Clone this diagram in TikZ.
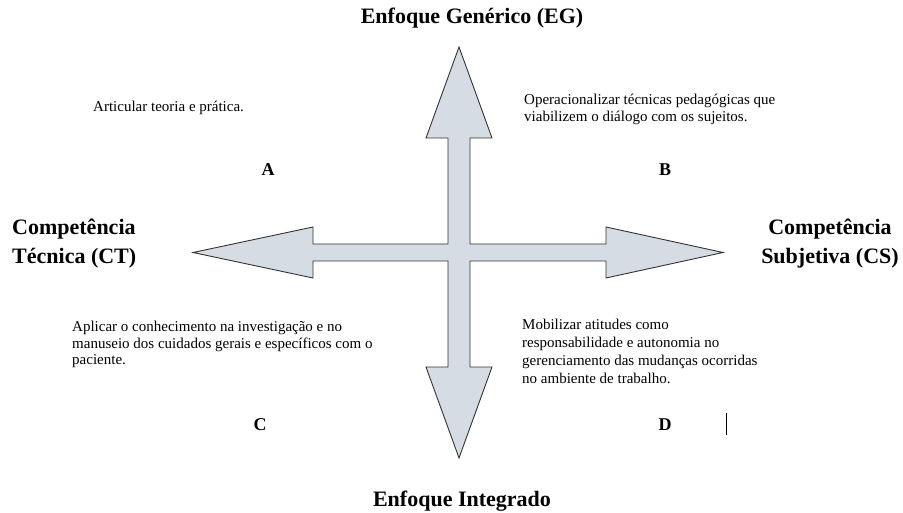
\documentclass[tikz,border=0pt]{standalone}
\usepackage{fontspec}
\setmainfont{Liberation Serif}
\usepackage{xcolor}
\usetikzlibrary{positioning}

\definecolor{setacinza}{RGB}{214,220,228}

\begin{document}
\begin{tikzpicture}[
    x=1pt, y=-1pt,
    seta/.style={draw=black!80, fill=setacinza, line width=0.9pt, line join=miter},
    eixo/.style={font=\fontsize{22}{29}\selectfont\bfseries, align=center, inner sep=0pt},
    quadrante/.style={font=\fontsize{18}{21}\selectfont\bfseries},
    texto/.style={font=\fontsize{15}{16.5}\selectfont, align=left, anchor=north west, inner sep=0pt}
]
    \useasboundingbox (0,0) rectangle (903,513);

    % Cross of arrows
    \draw[seta] (459,47) -- (492,138) -- (470,138) -- (470,244) -- (606,244)
        -- (606,227) -- (723,252.5) -- (606,278) -- (606,261) -- (470,261)
        -- (470,367) -- (492,367) -- (459,458) -- (426,367) -- (448,367)
        -- (448,261) -- (313,261) -- (313,278) -- (193,252.5) -- (313,227)
        -- (313,244) -- (448,244) -- (448,138) -- (426,138) -- cycle;
    \coordinate (centro) at (459,252.5);

    % Axis labels
    \node[eixo, anchor=base] (eg) at (472,24) {Enfoque Genérico (EG)};
    \node[eixo, anchor=base] (ei) at (462,506) {Enfoque Integrado};
    \node[eixo, align=left, anchor=west] (ct) at (12,244) {Competência\\Técnica (CT)};
    \node[eixo] (cs) at (830,244) {Competência\\Subjetiva (CS)};

    % Quadrants
    \node[quadrante] (qa) at (268,170) {A};
    \node[quadrante] (qb) at (665,170) {B};
    \node[quadrante] (qc) at (260,425) {C};
    \node[quadrante] (qd) at (665,425) {D};

    % Quadrant texts
    \node[texto] (ta) at (93,101) {Articular teoria e prática.};
    \node[texto] (tb) at (524,94) {Operacionalizar técnicas pedagógicas que\\viabilizem o diálogo com os sujeitos.};
    \node[texto] (tc) at (72,321) {Aplicar o conhecimento na investigação e no\\manuseio dos cuidados gerais e específicos com o\\paciente.};
    \node[texto, font=\fontsize{15}{18.2}\selectfont] (td) at (522,318.5) {Mobilizar atitudes como\\responsabilidade e autonomia no\\gerenciamento das mudanças ocorridas\\no ambiente de trabalho.};

    % Cursor mark
    \draw[line width=0.9pt] (726,413) -- (726,435);
\end{tikzpicture}
\end{document}
